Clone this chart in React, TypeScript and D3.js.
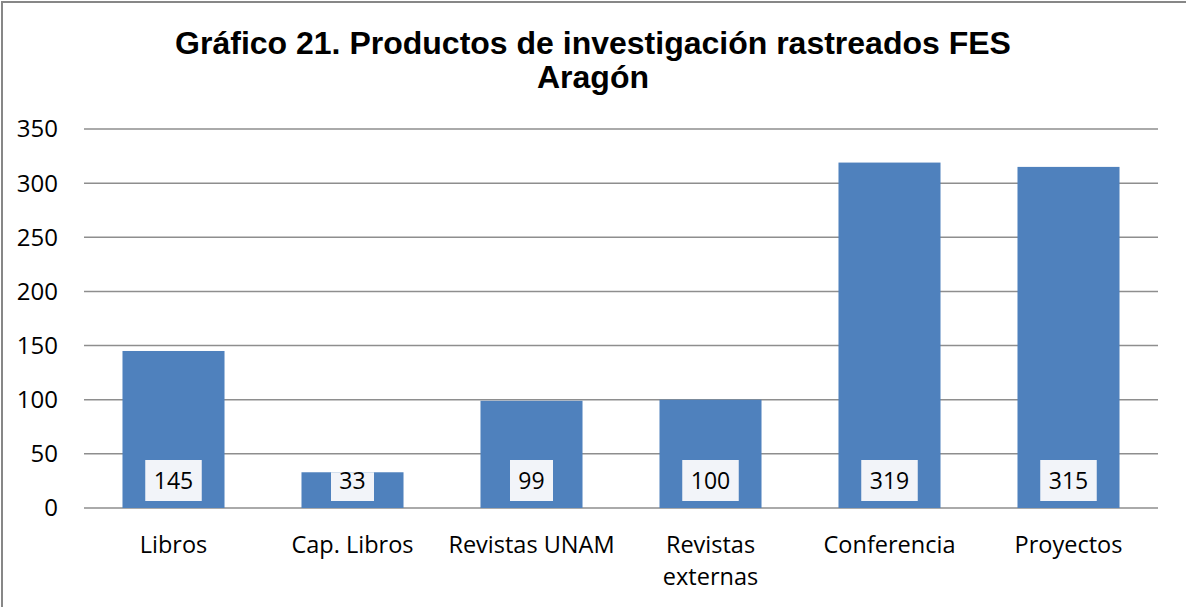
import React from "react";
import * as d3 from "d3";

const categories: string[][] = [
  ["Libros"],
  ["Cap. Libros"],
  ["Revistas UNAM"],
  ["Revistas", "externas"],
  ["Conferencia"],
  ["Proyectos"],
];
const values: number[] = [145, 33, 99, 100, 319, 315];
const yTicks: number[] = [0, 50, 100, 150, 200, 250, 300, 350];
const titleLines: string[] = [
  "Gráfico 21. Productos de investigación rastreados FES",
  "Aragón",
];

const W = 1186;
const H = 607;
const plot = { left: 84, right: 1158, top: 129, bottom: 508 };
const bodyFont = "'Open Sans', 'Noto Sans', sans-serif";

export default function App() {
  const keys = categories.map((c) => c.join(" "));
  const x = d3
    .scaleBand<string>()
    .domain(keys)
    .range([plot.left, plot.right])
    .paddingInner(0.43)
    .paddingOuter(0.215);
  const y = d3.scaleLinear().domain([0, 350]).range([plot.bottom, plot.top]);

  return (
    <svg
      width={W}
      height={H}
      style={{ position: "absolute", left: 0, top: 0, background: "#fff" }}
    >
      <rect x={2} y={2} width={W + 10} height={H + 10} fill="#fff" stroke="#878787" strokeWidth={2} />
      {titleLines.map((t, i) => (
        <text
          key={i}
          x={W / 2}
          y={54 + i * 34}
          textAnchor="middle"
          fontFamily="'Liberation Sans', Arial, sans-serif"
          fontWeight="bold"
          fontSize={32}
          fill="#000"
        >
          {t}
        </text>
      ))}
      {yTicks.map((t) => (
        <g key={t}>
          <line x1={plot.left} x2={plot.right} y1={y(t)} y2={y(t)} stroke="#8e8e8e" strokeWidth={1.5} />
          <text
            x={58}
            y={y(t)}
            dy="0.35em"
            textAnchor="end"
            fontFamily={bodyFont}
            fontSize={24}
            fill="#000"
          >
            {t}
          </text>
        </g>
      ))}
      {values.map((v, i) => {
        const bx = x(keys[i])!;
        const bw = x.bandwidth();
        const cx = bx + bw / 2;
        const label = String(v);
        const boxW = 16 + label.length * 13.5;
        const boxTop = Math.max(460, y(v));
        return (
          <g key={i}>
            <rect x={bx} y={y(v)} width={bw} height={y(0) - y(v)} fill="#4f81bd" />
            <rect x={cx - boxW / 2} y={boxTop} width={boxW} height={501 - boxTop} fill="#f2f4f9" />
            <text
              x={cx}
              y={481}
              dy="0.36em"
              textAnchor="middle"
              fontFamily={bodyFont}
              fontSize={23}
              fill="#000"
            >
              {label}
            </text>
          </g>
        );
      })}
      {categories.map((lines, i) => {
        const cx = x(keys[i])! + x.bandwidth() / 2;
        return lines.map((l, j) => (
          <text
            key={`${i}-${j}`}
            x={cx}
            y={545 + j * 32}
            dy="0.35em"
            textAnchor="middle"
            fontFamily={bodyFont}
            fontSize={23.5}
            fill="#000"
          >
            {l}
          </text>
        ));
      })}
    </svg>
  );
}
